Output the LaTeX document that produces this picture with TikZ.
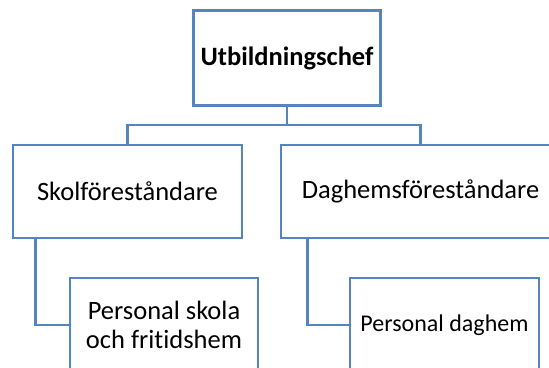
\documentclass[tikz,border=0pt]{standalone}
\usepackage{fontspec}
\setmainfont{Carlito}[Ligatures={NoCommon}]
\definecolor{boxblue}{RGB}{84,133,192}
\begin{document}
\begin{tikzpicture}[x=1pt,y=-1pt,
  orgbox/.style={draw=boxblue, line width=2.8pt, fill=white, inner sep=0pt, align=center, font=\fontsize{26.5}{29}\selectfont, text=black},
  conn/.style={draw=boxblue, line width=2.8pt}]
\useasboundingbox (0,0) rectangle (549,367);
\clip (0,0) rectangle (549,367);
\node[orgbox, minimum width=187, minimum height=95, font=\bfseries\fontsize{26.5}{29}\selectfont] (top) at (287,58) {Utbildningschef};
\node[orgbox, minimum width=229, minimum height=93] (left) at (127.5,191.5) {Skolföreståndare};
\node[orgbox, minimum width=279, minimum height=93] (right) at (420.5,191.5) {Daghemsföreståndare};
\node[orgbox, minimum width=188, minimum height=94] (lsub) at (164,325) {Personal skola\\och fritidshem};
\node[orgbox, minimum width=189, minimum height=94, font=\fontsize{24}{29}\selectfont] (rsub) at (444.5,325) {Personal daghem};
\coordinate (bus) at (287,125);
\draw[conn] (top.south) -- (bus);
\draw[conn] (left.north) |- (bus) -| (right.north);
\draw[conn] ([xshift=24]left.south west) |- (lsub.west);
\draw[conn] ([xshift=28]right.south west) |- (rsub.west);
\end{tikzpicture}
\end{document}
